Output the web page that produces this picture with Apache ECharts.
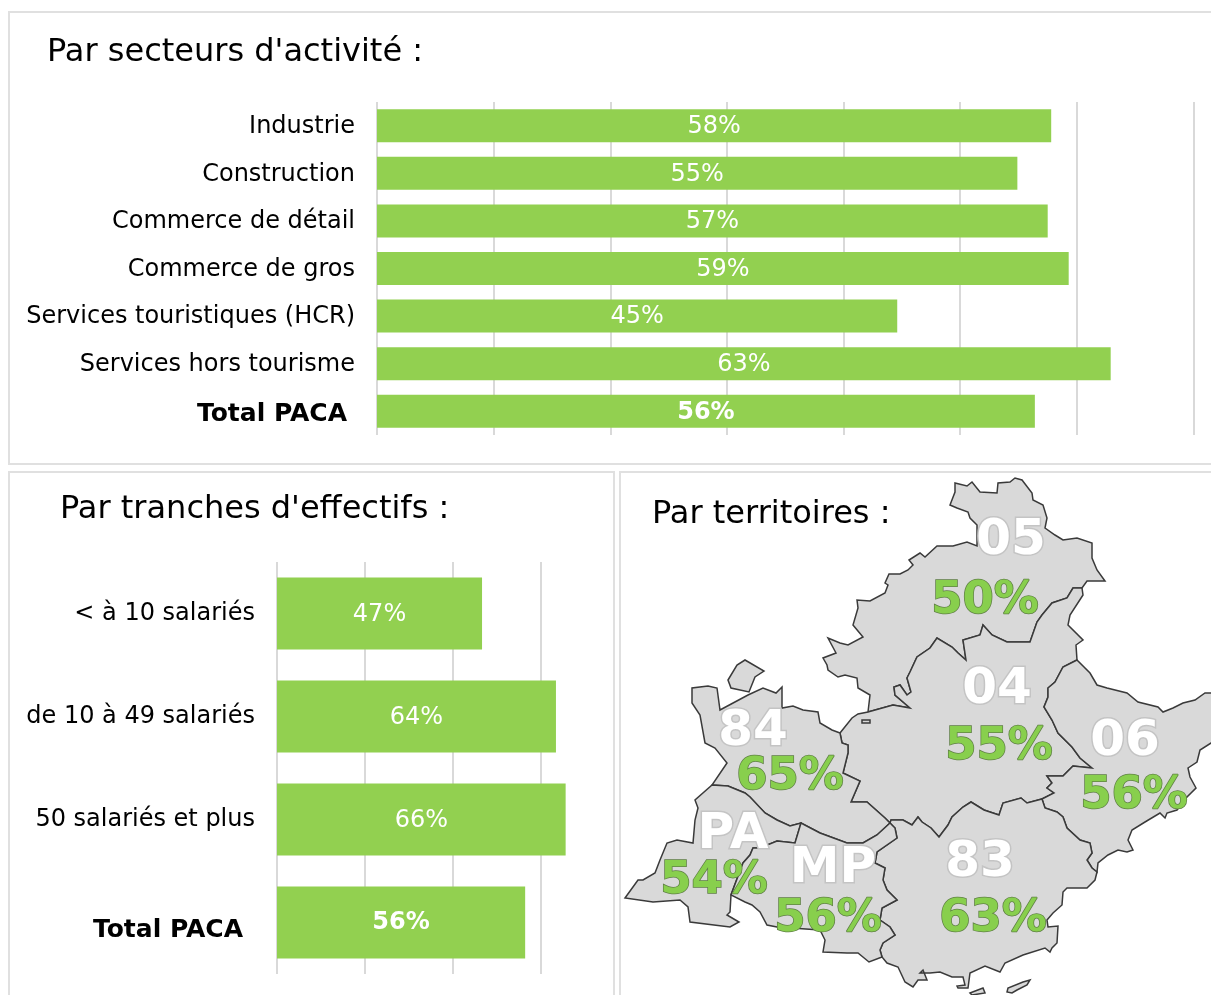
<!DOCTYPE html>
<html lang="fr">
<head>
<meta charset="utf-8">
<title>Répartition PACA</title>
<script src="https://cdn.jsdelivr.net/npm/echarts@6/dist/echarts.min.js"></script>
<style>
  html, body { margin: 0; padding: 0; background: #fff; }
  #chart { width: 1211px; height: 995px; }
</style>
</head>
<body>
<div id="chart"></div>
<script>
// par secteurs
const secteurs = ['Industrie', 'Construction', 'Commerce de détail', 'Commerce de gros', 'Services touristiques (HCR)', 'Services hors tourisme', 'Total PACA']
const secteursValues = [57.8, 54.9, 57.5, 59.3, 44.6, 62.9, 56.4]
const secteursLabels = ['58%', '55%', '57%', '59%', '45%', '63%', '56%']

// par tranches
const tranches = ['< à 10 salariés', 'de 10 à 49 salariés', '50 salariés et plus', 'Total PACA']
const tranchesValues = [46.6, 63.4, 65.6, 56.4]
const tranchesLabels = ['47%', '64%', '66%', '56%']

// par territoires
const territoires = ['05', '04', '84', '06', 'PA', 'MP', '83']
const territoiresTaux = [50, 55, 65, 56, 54, 56, 63]

// ancrage des étiquettes sur la carte : code puis taux
const codeAnchors = {'05': [1011, 541], '04': [997, 690], '84': [753, 732], '06': [1125, 742], PA: [733, 835], MP: [833, 869], 83: [980, 863]}
const tauxAnchors = {'05': [985, 601], '04': [999, 747], '84': [790, 777], '06': [1134, 796], PA: [714, 881], MP: [828, 919], 83: [993, 919]}

// fonds de carte : frontières décalquées, communes entre territoires
const arc05Outer = [[868, 712], [870, 695], [858, 688], [857, 678], [845, 675], [838, 677], [828, 670], [827, 665], [823, 658], [836, 653], [828, 638], [840, 643], [848, 645], [863, 637], [853, 625], [858, 608], [857, 600], [870, 601], [885, 593], [888, 585], [885, 583], [889, 574], [900, 574], [908, 570], [913, 565], [909, 560], [920, 553], [925, 557], [937, 546], [953, 546], [967, 542], [977, 546], [977, 525], [970, 518], [968, 512], [957, 508], [950, 505], [955, 492], [955, 483], [967, 486], [972, 482], [980, 492], [997, 493], [998, 483], [1010, 482], [1015, 478], [1022, 480], [1032, 493], [1033, 500], [1043, 505], [1047, 518], [1045, 528], [1055, 535], [1063, 540], [1077, 538], [1092, 543], [1092, 558], [1097, 570], [1105, 581], [1087, 581], [1082, 588]]
const arc0504 = [[1082, 588], [1073, 588], [1067, 598], [1052, 603], [1042, 615], [1037, 622], [1030, 642], [1007, 642], [992, 635], [983, 625], [980, 635], [963, 640], [966, 660], [958, 653], [952, 647], [937, 638], [930, 648], [917, 657], [910, 672], [907, 678], [911, 692], [907, 695], [900, 685], [894, 687], [895, 695], [910, 708], [893, 705], [868, 712]]
const arc04NE = [[1082, 588], [1083, 595], [1070, 615], [1068, 625], [1083, 640], [1076, 645], [1077, 660]]
const arc0406 = [[1077, 660], [1063, 667], [1055, 682], [1048, 688], [1048, 697], [1044, 707], [1052, 720], [1058, 733], [1072, 747], [1080, 758], [1092, 768], [1073, 766], [1063, 776], [1047, 776], [1052, 783], [1047, 788], [1054, 793], [1042, 799]]
const arc0483 = [[1042, 799], [1027, 803], [1021, 798], [1003, 803], [999, 815], [984, 810], [971, 802], [963, 807], [952, 817], [948, 825], [939, 837], [931, 828], [922, 822], [918, 817], [912, 825], [903, 820], [891, 820], [890, 823]]
const arc8404 = [[840, 733], [842, 743], [848, 745], [848, 753], [843, 773], [860, 781], [851, 802], [867, 802], [885, 818], [890, 823]]
const arc04NW = [[840, 733], [852, 718], [858, 714], [868, 712]]
const arc06Outer = [[1077, 660], [1090, 673], [1097, 685], [1107, 688], [1127, 693], [1138, 702], [1158, 707], [1163, 712], [1173, 708], [1183, 703], [1195, 700], [1205, 693], [1211, 693], [1230, 690], [1230, 740], [1211, 743], [1200, 750], [1197, 762], [1188, 768], [1190, 777], [1196, 788], [1187, 797], [1177, 810], [1167, 813], [1165, 818], [1160, 813], [1145, 822], [1132, 830], [1128, 840], [1133, 850], [1127, 852], [1118, 850], [1108, 855], [1098, 863], [1097, 872]]
const arc0683 = [[1042, 799], [1045, 808], [1057, 812], [1063, 817], [1067, 828], [1080, 840], [1090, 843], [1092, 853], [1087, 860], [1092, 868], [1097, 872]]
const arc83Coast = [[1097, 872], [1095, 880], [1087, 888], [1067, 888], [1063, 892], [1062, 905], [1053, 913], [1047, 920], [1048, 927], [1058, 926], [1057, 943], [1052, 948], [1050, 952], [1045, 948], [1023, 955], [1005, 963], [1000, 972], [985, 966], [970, 973], [968, 988], [958, 988], [957, 986], [965, 985], [963, 977], [952, 977], [940, 972], [930, 973], [920, 973], [923, 970], [927, 980], [918, 980], [913, 987], [905, 982], [898, 967], [887, 963], [882, 957]]
const arcMP83 = [[882, 957], [880, 950], [883, 943], [895, 935], [890, 927], [880, 920], [882, 908], [897, 900], [887, 890], [883, 880], [885, 868], [875, 863], [877, 852], [897, 838], [895, 828], [890, 823]]
const arc84North = [[840, 733], [832, 730], [820, 723], [818, 712], [803, 710], [793, 706], [782, 708], [782, 687], [776, 693], [763, 688], [748, 695], [720, 710], [717, 688], [708, 686], [692, 688], [692, 703], [700, 715], [705, 743], [715, 748], [727, 763], [712, 785]]
const arc84PA = [[712, 785], [728, 786], [745, 793], [750, 797], [765, 813], [777, 820], [790, 826], [801, 823]]
const arc84MP = [[801, 823], [820, 833], [847, 843], [863, 843], [877, 835], [890, 823]]
const arcPAOuter = [[712, 785], [695, 800], [698, 808], [695, 820], [693, 843], [677, 840], [667, 843], [660, 860], [655, 873], [643, 880], [638, 880], [625, 898], [653, 902], [680, 900], [688, 907], [690, 922], [730, 927], [739, 922], [727, 915], [730, 912], [731, 895]]
const arcPAMP = [[801, 823], [795, 843], [777, 841], [760, 848], [753, 848], [750, 855], [743, 863], [731, 895]]
const arcMPCoast = [[731, 895], [745, 902], [752, 905], [760, 912], [767, 925], [777, 927], [820, 930], [825, 940], [823, 952], [847, 953], [858, 953], [869, 962], [882, 957]]

const ileValreas = [[728, 680], [737, 665], [745, 660], [764, 671], [755, 677], [749, 692], [731, 688]]
const trou04 = [[862, 720], [870, 720], [870, 723], [862, 723]]
const ileLevant = [[1007, 992], [1008, 988], [1023, 982], [1030, 980], [1027, 985], [1017, 990], [1012, 993]]
const ilePort = [[970, 993], [983, 988], [985, 993], [972, 995]]

const rev = arc => arc.slice().reverse()
const ring = (...arcs) => {
  const pts = [].concat(...arcs).map(p => [p[0], -p[1]])
  pts.push(pts[0])
  return pts
}
const feature = (name, polygons) => ({
  type: 'Feature',
  properties: {name: name},
  geometry: {type: 'MultiPolygon', coordinates: polygons}
})

echarts.registerMap('paca', {
  type: 'FeatureCollection',
  features: [
    feature('05', [[ring(arc05Outer, arc0504)]]),
    feature('04', [[ring(arc04NE, arc0406, arc0483, rev(arc8404), arc04NW, rev(arc0504)), ring(trou04)]]),
    feature('06', [[ring(arc06Outer, rev(arc0683), rev(arc0406))]]),
    feature('83', [[ring(arc0683, arc83Coast, arcMP83, rev(arc0483))], [ring(ileLevant)], [ring(ilePort)]]),
    feature('84', [[ring(arc84North, arc84PA, arc84MP, rev(arc8404))], [ring(ileValreas)]]),
    feature('PA', [[ring(arcPAOuter, rev(arcPAMP), rev(arc84PA))]]),
    feature('MP', [[ring(arc84MP, rev(arcMP83), rev(arcMPCoast), rev(arcPAMP))]])
  ]
})

const FONT = '"DejaVu Sans"'
const GREEN = '#92d050'
const GRID_LINE = '#d9d9d9'

function barSeries (values, labels, gridIndex, barWidth, labelOffset) {
  const last = values.length - 1
  return {
    type: 'bar',
    xAxisIndex: gridIndex,
    yAxisIndex: gridIndex,
    barWidth: barWidth,
    silent: true,
    itemStyle: {color: GREEN},
    label: {
      show: true,
      position: 'inside',
      offset: [0, 1],
      color: '#fff',
      fontFamily: FONT,
      fontSize: 24,
      formatter: p => labels[p.dataIndex]
    },
    data: values.map((v, i) => i === last ? {value: v, label: {fontWeight: 'bold', offset: [0, labelOffset]}} : v)
  }
}

function categoryAxis (gridIndex, names, padding, totalPadding) {
  return {
    type: 'category',
    gridIndex: gridIndex,
    inverse: true,
    data: names,
    axisLine: {show: false},
    axisTick: {show: false},
    axisLabel: {
      margin: 22,
      padding: padding,
      color: '#000',
      fontFamily: FONT,
      fontSize: 24,
      formatter: v => v === 'Total PACA' ? '{t|' + v + '}' : v,
      rich: {
        t: {fontFamily: FONT, fontSize: 25, fontWeight: 'bold', color: '#000', padding: totalPadding}
      }
    }
  }
}

function valueAxis (gridIndex, max, interval) {
  return {
    type: 'value',
    gridIndex: gridIndex,
    min: 0,
    max: max,
    interval: interval,
    axisLine: {show: false},
    axisTick: {show: false},
    axisLabel: {show: false},
    splitLine: {show: true, showMaxLine: gridIndex === 0, lineStyle: {color: GRID_LINE, width: 2}}
  }
}

function panel (x, y, w, h) {
  return {
    type: 'rect',
    z: -1,
    shape: {x: x, y: y, width: w, height: h},
    style: {fill: '#fff', stroke: '#e0e0e0', lineWidth: 2}
  }
}

function titleAt (text, x, y) {
  return {
    text: text,
    left: x,
    top: y,
    textStyle: {fontFamily: FONT, fontSize: 32, fontWeight: 'normal', color: '#000'}
  }
}

function mapLabels (anchors, text, style) {
  return {
    type: 'scatter',
    coordinateSystem: 'geo',
    geoIndex: 0,
    silent: true,
    symbolSize: 1,
    itemStyle: {color: 'transparent', opacity: 1},
    z: 5,
    label: Object.assign({
      show: true,
      position: 'inside',
      fontFamily: FONT,
      fontWeight: 'bold',
      opacity: 1,
      formatter: p => text(p.dataIndex)
    }, style),
    data: territoires.map(t => [anchors[t][0], -anchors[t][1]])
  }
}

const chart = echarts.init(document.getElementById('chart'))
chart.setOption({
  animation: false,
  graphic: [panel(9, 12, 1240, 452), panel(9, 472, 605, 560), panel(620, 472, 620, 560)],
  title: [
    titleAt("Par secteurs d'activité :", 42, 32),
    titleAt("Par tranches d'effectifs :", 55, 489),
    titleAt('Par territoires :', 647, 494)
  ],
  grid: [
    {left: 377, top: 102, width: 816.5, height: 333},
    {left: 277, top: 562, width: 352, height: 412}
  ],
  xAxis: [valueAxis(0, 70, 10), valueAxis(1, 80, 20)],
  yAxis: [
    categoryAxis(0, secteurs, [2, 0, 0, 0], [4, 8, 0, 0]),
    categoryAxis(1, tranches, 0, [16, 12, 0, 0])
  ],
  geo: {
    map: 'paca',
    left: 0,
    top: 0,
    width: 1211,
    height: 995,
    aspectScale: 1,
    boundingCoords: [[0, 0], [1211, -995]],
    roam: false,
    silent: true,
    z: 2,
    label: {show: false},
    itemStyle: {areaColor: '#d9d9d9', borderColor: '#3a3a3a', borderWidth: 1.5}
  },
  series: [
    barSeries(secteursValues, secteursLabels, 0, 33, 2),
    barSeries(tranchesValues, tranchesLabels, 1, 72, 0),
    mapLabels(codeAnchors, i => territoires[i], {
      fontSize: 50,
      color: '#fff',
      textBorderColor: '#c4c4c4',
      textBorderWidth: 3
    }),
    mapLabels(tauxAnchors, i => territoiresTaux[i] + '%', {
      fontSize: 45,
      color: '#88cf4d',
      textBorderColor: '#5f7f45',
      textBorderWidth: 1.5
    })
  ]
})
</script>
</body>
</html>
